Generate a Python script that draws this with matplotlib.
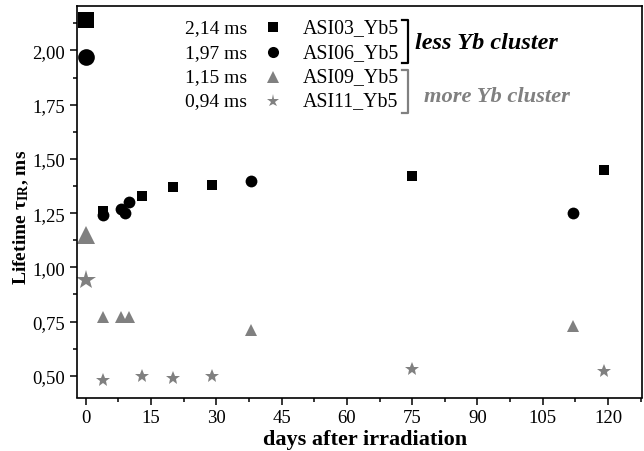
import matplotlib
matplotlib.use('Agg')
import matplotlib.pyplot as plt
from matplotlib.ticker import MultipleLocator, FuncFormatter

plt.rcParams['font.family'] = ['Liberation Serif', 'DejaVu Serif']
plt.rcParams['mathtext.fontset'] = 'custom'
plt.rcParams['mathtext.rm'] = 'Liberation Serif'
plt.rcParams['mathtext.bf'] = 'Liberation Serif:bold'
plt.rcParams['mathtext.it'] = 'Liberation Serif:italic'

samples = ["ASI03_Yb5", "ASI06_Yb5", "ASI09_Yb5", "ASI11_Yb5"]
initial_lifetimes = [2.14, 1.97, 1.15, 0.94]
initial_labels = ["2,14 ms", "1,97 ms", "1,15 ms", "0,94 ms"]

days_03 = [4, 13, 20, 29, 75, 119]
tau_03 = [1.26, 1.33, 1.37, 1.38, 1.42, 1.45]
days_06 = [4, 8, 9, 10, 38, 112]
tau_06 = [1.24, 1.27, 1.25, 1.30, 1.40, 1.25]
days_09 = [4, 8, 10, 38, 112]
tau_09 = [0.77, 0.77, 0.77, 0.71, 0.73]
days_11 = [4, 13, 20, 29, 75, 119]
tau_11 = [0.48, 0.50, 0.49, 0.50, 0.53, 0.52]

days = [days_03, days_06, days_09, days_11]
taus = [tau_03, tau_06, tau_09, tau_11]

black = 'black'
gray = '#808080'
colors = [black, black, gray, gray]
markers = ['s', 'o', '^', '*']
small_size = [7.5, 8.5, 9, 10]
big_size = [12, 12, 13.5, 15]

fig = plt.figure(figsize=(6.44, 4.52), dpi=100)
ax = fig.add_axes([77/644, 1-398.5/452, 565/644, 391.5/452])

for i in range(len(samples)):
    ax.plot(days[i], taus[i], linestyle='none', marker=markers[i], color=colors[i],
            markersize=small_size[i], markeredgewidth=0)
    ax.plot([0], [initial_lifetimes[i]], linestyle='none', marker=markers[i],
            color=colors[i], markersize=big_size[i], markeredgewidth=0, clip_on=False)

ax.set_xlim(-2, 127.8)
ax.set_ylim(0.40, 2.205)
ax.xaxis.set_major_locator(MultipleLocator(15))
ax.xaxis.set_minor_locator(MultipleLocator(7.5))
ax.yaxis.set_major_locator(MultipleLocator(0.25))
ax.yaxis.set_minor_locator(MultipleLocator(0.125))
ax.yaxis.set_major_formatter(FuncFormatter(lambda v, p: f"{v:.2f}".replace('.', ',')))
ax.tick_params(which='major', direction='out', length=5, width=1.1, labelsize=13.5)
ax.tick_params(which='minor', direction='out', length=3, width=1.1)
for s in ax.spines.values():
    s.set_linewidth(1.2)

ax.set_xlabel("days after irradiation", fontsize=16, fontweight='bold')
ax.xaxis.set_label_coords(0.51, -0.105)
ax.xaxis.label.set_va('center')
ax.set_ylabel(r"Lifetime $\mathbf{\tau_{IR}}$, ms", fontsize=14, fontweight='bold')
ax.yaxis.set_label_coords(-0.082, 0.4636)

# custom legend
row_y = [0.9456, 0.8818, 0.8194, 0.7581]
for i in range(len(samples)):
    ax.text(0.301, row_y[i], initial_labels[i], transform=ax.transAxes, ha='right',
            va='center', fontsize=14)
    ax.plot([0.347], [row_y[i]], transform=ax.transAxes, linestyle='none',
            marker=markers[i], color=colors[i], markersize=small_size[i] - 0.5,
            markeredgewidth=0, clip_on=False)
    ax.text(0.3995, row_y[i], samples[i], transform=ax.transAxes, ha='left',
            va='center', fontsize=14.3)

ax.plot([0.575, 0.586, 0.586, 0.575], [0.965, 0.965, 0.854, 0.854],
        transform=ax.transAxes, color=black, linewidth=1.6, clip_on=False)
ax.plot([0.575, 0.586, 0.586, 0.575], [0.837, 0.837, 0.726, 0.726],
        transform=ax.transAxes, color=gray, linewidth=1.6, clip_on=False)
ax.text(0.598, 0.907, "less Yb cluster", transform=ax.transAxes, ha='left', va='center',
        fontsize=17.5, fontweight='bold', fontstyle='italic', color=black)
ax.text(0.614, 0.769, "more Yb cluster", transform=ax.transAxes, ha='left', va='center',
        fontsize=16.2, fontweight='bold', fontstyle='italic', color=gray)

fig.savefig('out.png', dpi=100)
